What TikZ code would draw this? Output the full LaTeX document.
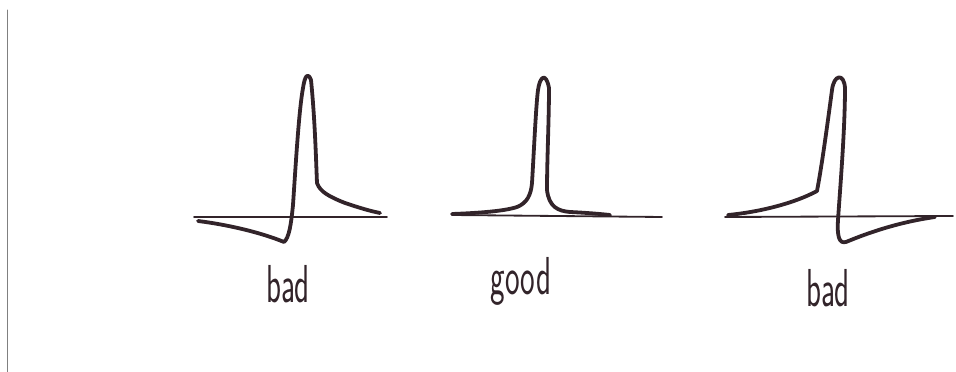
\documentclass[tikz,border=0pt]{standalone}
\usepackage{tikz}
\usetikzlibrary{positioning}
\definecolor{ink}{RGB}{50,36,42}

\begin{document}
\begin{tikzpicture}[x=0.025cm,y=-0.025cm,line join=round,line cap=round,
  wave/.style={draw=ink,line width=2.7pt},
  axis/.style={draw=ink,line width=1.3pt},
  lbl/.style={text=ink,font=\sffamily\fontsize{38}{40}\selectfont,anchor=base,
    xscale=0.58,transform shape,inner sep=0pt}]
  \useasboundingbox (0,0) rectangle (956,372);
  \draw[gray,line width=0.7pt] (7,10) -- (7,372);

  % left: undershoot before the peak
  \draw[axis] (194,217) -- (387,217);
  \draw[wave] (198,221) .. controls (230,225) and (262,233) .. (284,242)
    .. controls (289,238) and (291,225) .. (293,205)
    .. controls (296,160) and (299,110) .. (303,88)
    .. controls (305,75) and (308,72) .. (311,80)
    .. controls (315,120) and (316,160) .. (317,183)
    .. controls (320,192) and (330,197) .. (345,203)
    .. controls (360,208) and (370,211) .. (380,213);
  \node[lbl] (bad1) at (288,303) {bad};

  % middle: symmetric peak
  \draw[axis] (452,215) -- (662,217);
  \draw[wave] (452,214) .. controls (480,213) and (505,211) .. (517,207)
    .. controls (527,203) and (531,195) .. (532,183)
    .. controls (534,150) and (536,105) .. (538,90)
    .. controls (540,76) and (546,72) .. (549,88)
    .. controls (549,120) and (547,160) .. (547,190)
    .. controls (549,207) and (558,211) .. (570,212)
    .. controls (590,213) and (600,214) .. (610,215);
  \node[lbl] (good) at (521,295) {good};

  % right: undershoot after the peak
  \draw[axis] (725,217) -- (953,216);
  \draw[wave] (728,215) .. controls (760,212) and (795,203) .. (817,191)
    .. controls (822,165) and (828,120) .. (832,90)
    .. controls (834,74) and (844,73) .. (845,88)
    .. controls (845,130) and (840,190) .. (838,220)
    .. controls (837,236) and (839,244) .. (846,242)
    .. controls (870,232) and (900,222) .. (935,217);
  \node[lbl] (bad2) at (828,307) {bad};
\end{tikzpicture}
\end{document}
